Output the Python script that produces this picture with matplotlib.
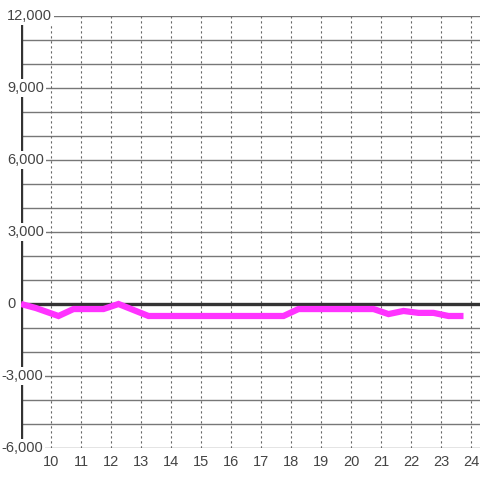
import matplotlib
matplotlib.use("Agg")
from matplotlib import pyplot as plt
from matplotlib.transforms import blended_transform_factory

plt.rcParams['font.family'] = ['Liberation Sans', 'DejaVu Sans']

# data
hours = [9.0, 9.5, 10.25, 10.75, 11.75, 12.25, 13.25, 17.75, 18.25,
         20.75, 21.25, 21.75, 22.25, 22.75, 23.25, 23.75]
values = [0, -170, -500, -210, -210, 0, -500, -500, -210,
          -210, -420, -290, -370, -370, -500, -500]

x_ticks = list(range(10, 25))
y_labels = [12000, 9000, 6000, 3000, 0, -3000, -6000]
y_grid = list(range(-6000, 12001, 1000))

TEXT_COLOR = "#444444"
FSIZE = 10.5

fig = plt.figure(figsize=(4.8, 4.8), dpi=100)
ax = fig.add_axes([21 / 480, 32 / 480, 459 / 480, 432 / 480])
ax.set_xlim(9, 24.3)
ax.set_ylim(-6000, 12000)

for s in ax.spines.values():
    s.set_visible(False)

# grid
for yv in y_grid:
    ax.axhline(yv, color="#777777", lw=1, zorder=1)
for xv in x_ticks:
    ax.axvline(xv, color="#666666", lw=0.8, ls=(0, (2, 2.5)), zorder=1)

ax.axhline(0, color="#333333", lw=2.4, zorder=2)
ax.axvline(9, color="#333333", lw=2.4, zorder=2)

ax.plot(hours, values, color="#ff33ff", lw=4.5, solid_joinstyle="miter",
        solid_capstyle="butt", zorder=3)

ax.set_xticks(x_ticks)
ax.set_xticklabels([str(t) for t in x_ticks], fontsize=FSIZE, color=TEXT_COLOR)
ax.tick_params(axis="x", length=0, pad=5)
ax.set_yticks([])

trans = blended_transform_factory(fig.transFigure, ax.transData)
for yv in y_labels:
    lab = "{:,}".format(yv)
    x0 = 1 / 480 if yv < 0 else 7 / 480
    ax.text(x0, yv, lab, transform=trans, ha="left", va="center",
            fontsize=FSIZE, color=TEXT_COLOR, zorder=5,
            bbox=dict(facecolor="white", edgecolor="none", pad=1.5))

fig.savefig("out.png", dpi=100)
